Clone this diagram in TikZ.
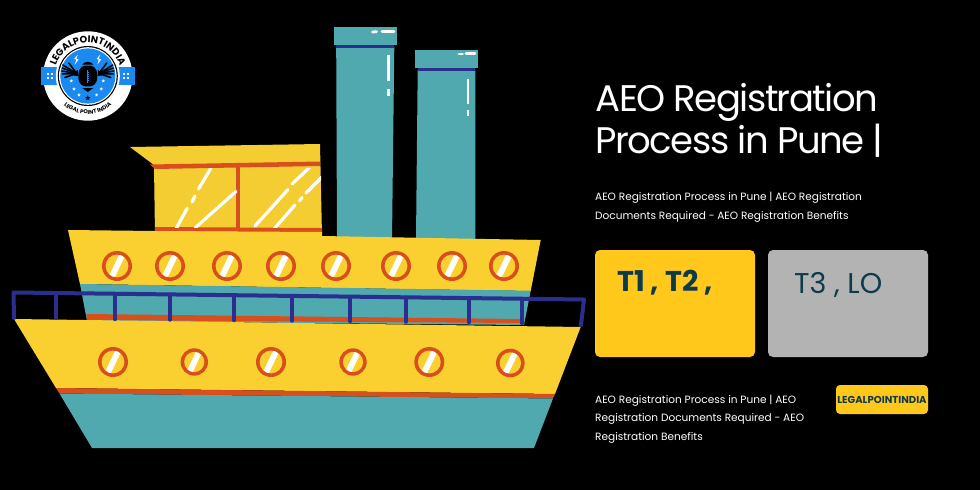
\documentclass[tikz,border=0pt]{standalone}
\usepackage{fontspec}
\setmainfont{Poppins}
\usetikzlibrary{shapes.geometric,decorations.text}
\definecolor{ylw}{HTML}{F9D02F}
\definecolor{cabin}{HTML}{F4CD33}
\definecolor{teal}{HTML}{4FA9AE}
\definecolor{rust}{HTML}{D84E1C}
\definecolor{navy}{HTML}{2A2F8F}
\definecolor{logoblue}{HTML}{1A8AF0}
\definecolor{amber}{HTML}{FFC81A}
\definecolor{greybox}{HTML}{B3B3B3}
\definecolor{inkteal}{HTML}{0E3B4A}
\newcommand{\fs}[1]{\fontsize{#1}{#1}\selectfont}
\tikzset{
  glint/.style={draw=white,line width=2.8pt,line cap=round},
  windowglint/.style={draw=white,line width=3.2pt,line cap=round},
  post/.style={draw=navy,line width=3.4pt,line cap=round},
  txt/.style={anchor=base west,inner sep=0pt,text=white},
  smallstar/.style={star,star points=5,star point ratio=2.4,fill=white,inner sep=0pt,minimum size=3.6pt},
}
\newcommand{\porthole}[3]{%
  \fill[rust] (#1,#2) circle[radius=#3];
  \begin{scope}
    \clip (#1,#2) circle[radius=#3-3.6];
    \fill[ylw] (#1,#2) circle[radius=#3];
    \fill[white] (#1-9,#2+12) -- (#1-2.5,#2+12) -- (#1+9,#2-12) -- (#1+2.5,#2-12) -- cycle;
  \end{scope}}
\begin{document}
\begin{tikzpicture}[x=1pt,y=-1pt]
\useasboundingbox (0,0) rectangle (980,490);
\fill[black] (0,0) rectangle (980,490);

% funnels
\fill[teal] (336.2,47) -- (394.3,47) -- (392,240) -- (337,240) -- cycle;
\fill[navy] (336.2,45) rectangle (394.3,47.8);
\fill[teal] (334,27) rectangle (397,45);
\draw[glint] (382,31.5) -- (394,31.5);
\draw[glint] (372.5,32) -- (376.5,31.7);
\draw[glint,line cap=butt] (388.3,54.5) -- (388.3,80.5);
\draw[glint,line cap=butt] (388.3,88.5) -- (388.3,95.5);
\fill[teal] (417.7,70) -- (475.3,70) -- (475.3,240) -- (416,240) -- cycle;
\fill[navy] (417.7,67.5) rectangle (475.3,70.5);
\fill[teal] (414.7,50) rectangle (477.7,67.7);
\draw[glint] (466,53.7) -- (475,53.7);
\draw[glint] (459,54) -- (462.5,54);
\draw[glint,line cap=butt] (468,78.5) -- (468,104);
\draw[glint,line cap=butt] (468,110) -- (468,116);

% cabin
\fill[cabin] (130,147) -- (320,144) -- (322,236) -- (155,236) -- (154,165) -- cycle;
\fill[rust] (150,164.5) -- (320,161.5) -- (320,166) -- (155,169) -- cycle;
\fill[rust] (155,227) -- (322,228) -- (322,232) -- (155,231.5) -- cycle;
\fill[rust] (235.5,166) rectangle (240,228);
\begin{scope}
\clip (155,168) rectangle (321,227.5);
\draw[windowglint] (211,168) -- (198.5,189);
\draw[windowglint] (195,196) -- (192,202);
\draw[windowglint] (187,208.5) -- (176,229);
\draw[windowglint] (236,191.5) -- (195,228);
\draw[windowglint] (310,167) -- (292,184);
\draw[windowglint] (288,189.5) -- (255,226);
\draw[windowglint] (322,177) -- (306,193);
\draw[windowglint] (302,197.5) -- (299.5,201);
\draw[windowglint] (295,205) -- (274,229);
\end{scope}

% upper deck
\fill[ylw] (68,230) -- (155,231) -- (322,232) -- (322,236) -- (540.7,240) -- (530.7,291) -- (80,284) -- cycle;
\fill[teal] (80,284) -- (530.7,290.7) -- (524,325) -- (87,321) -- cycle;
\fill[rust] (86.5,314) -- (520,319) -- (520,323) -- (87,320) -- cycle;
\foreach \cx in {117,170,227,281,336,396,452,504}{\porthole{\cx}{266}{15}}

% lower hull
\fill[ylw] (14,319) -- (580.7,327) -- (555,394) -- (56,388) -- cycle;
\fill[rust] (56,388) -- (555,394) -- (553,398.5) -- (59.5,393.5) -- cycle;
\fill[teal] (59.5,393.5) -- (553,398.5) -- (534,448) -- (92,448) -- cycle;
\porthole{113}{362}{15}
\porthole{194.3}{362}{13.7}
\porthole{271}{362}{15}
\porthole{353}{362}{13.7}
\porthole{429.3}{362}{15}
\porthole{510.3}{363}{14.3}

% railing
\draw[navy,line width=4pt,line join=round,line cap=round] (14,318) -- (13.5,292.5) -- (584,299.5) -- (581,325);
\foreach \px/\py in {56/318,115/319.5,170/320,234/320.5,292/321,350/321.5,406/322,469/322.5,522/323.5}
  \draw[post] (\px,{292.5+(\px-13)*0.0123}) -- (\px,\py);

% logo
\begin{scope}[shift={(87.8pt,-76pt)},y=1pt]
\fill[white] (0,0) circle[radius=44.7];
\fill[logoblue] (-46.8,9) rectangle (46.8,-9);
\fill[white] (0,0) circle[radius=32];
\fill[black] (0,0) circle[radius=30];
\fill[white] (0,0) circle[radius=28.8];
\fill[logoblue] (0,0) circle[radius=27.6];
% band marks
\foreach \sx in {-37.7,38}{
  \foreach \dx/\dy in {-2/2,2/2,-2/-2,2/-2}
    \fill[white] (\sx+\dx-1.2,\dy-1) rectangle (\sx+\dx+1.2,\dy+1);
}
% football
\fill[black] (-9.5,0) .. controls (-9.5,10) and (-4,10.5) .. (0,10.5) .. controls (4,10.5) and (9.5,10) .. (9.5,0)
  .. controls (9.5,-10) and (4,-10.5) .. (0,-10.5) .. controls (-4,-10.5) and (-9.5,-10) .. (-9.5,0) -- cycle;
\fill[black] (-5.5,11.5) .. controls (-3,15) and (3,15) .. (5.5,11.5) -- cycle;
\fill[black] (-5.5,-12) -- (5.5,-12) -- (0,-16) -- cycle;
\draw[logoblue,line width=0.8pt] (0,6.5) -- (0,-6.5);
\foreach \yy in {-4,-2,0,2,4}\draw[logoblue,line width=0.6pt] (-1,\yy) -- (1,\yy);
% wings
\foreach \sg in {-1,1}{
  \fill[black] (\sg*10,6) -- (\sg*10,0) -- (\sg*18,1) -- cycle;
  \foreach \ex/\ey in {25/11,25.5/8,26/5,25.5/2,23/-1.5}
    \draw[black,line width=1.5pt,line cap=round] (\sg*11,2.5) -- (\sg*\ex,\ey);
  \draw[black,line width=1.5pt,line cap=round] (\sg*11,2.5) -- (\sg*19,13);
}
% bolts
\foreach \sg/\bx in {-1/-11.5,1/11}{
  \fill[white] (\bx+1.5,21.5) -- (\bx-2.2,17) -- (\bx,16.5) -- (\bx-1.5,11.5) -- (\bx+2.3,16.5) -- (\bx,17.5) -- cycle;
}
% stars
\node[smallstar] (s1) at (-16.5,-5) {};
\node[smallstar] (s2) at (-13.8,-13) {};
\node[smallstar] (s3) at (-8.8,-19) {};
\node[smallstar] (s4) at (15.5,-5) {};
\node[smallstar] (s5) at (13.5,-13) {};
\node[smallstar] (s6) at (8.8,-19) {};
\node[smallstar,fill=black,minimum size=5.5pt] (s7) at (0,-22) {};
% ring texts
\path[decorate,decoration={text along path,text align=center,
  text={|\bfseries\fs{9.6}\color{black}|LEGALPOINTINDIA}}]
  (170:33.5) arc[start angle=170,end angle=10,radius=33.5];
\path[decorate,decoration={text along path,text align=center,
  text={|\bfseries\fs{5.6}\color{black}|LEGAL POINT INDIA}}]
  (215:38) arc[start angle=215,end angle=325,radius=38];
\end{scope}

% right column
\node[txt,font=\fs{37}\addfontfeature{LetterSpace=-4.2}] (t1) at (595.5,111.7) {AEO Registration};
\node[txt,font=\fs{37}\addfontfeature{LetterSpace=-4.2}] (t2) at (595.5,153.3) {Process in Pune |};
\node[txt,font=\fs{10.55}] (p1) at (595,200) {AEO Registration Process in Pune | AEO Registration};
\node[txt,font=\fs{10.55}] (p2) at (595,219) {Documents Required - AEO Registration Benefits};
\fill[amber,rounded corners=5pt] (595,250) rectangle (755,357);
\fill[greybox,rounded corners=5pt] (768,250) rectangle (928,357);
\node[txt,font=\bfseries\fs{28.6},text=inkteal] (b1) at (617,291) {T1 , T2 ,};
\node[txt,font=\fs{28.6},text=inkteal] (b2) at (794,293.5) {T3 , LO};
\node[txt,font=\fs{10.55}] (q1) at (595,403) {AEO Registration Process in Pune | AEO};
\node[txt,font=\fs{10.55}] (q2) at (595,421.5) {Registration Documents Required - AEO};
\node[txt,font=\fs{10.55}] (q3) at (595,440) {Registration Benefits};
\fill[amber,rounded corners=4pt] (836,385) rectangle (928,414);
\node[inner sep=0pt,font=\bfseries\fs{10.1},text=inkteal] (badge) at (882,399.5) {LEGALPOINTINDIA};
\end{tikzpicture}
\end{document}
